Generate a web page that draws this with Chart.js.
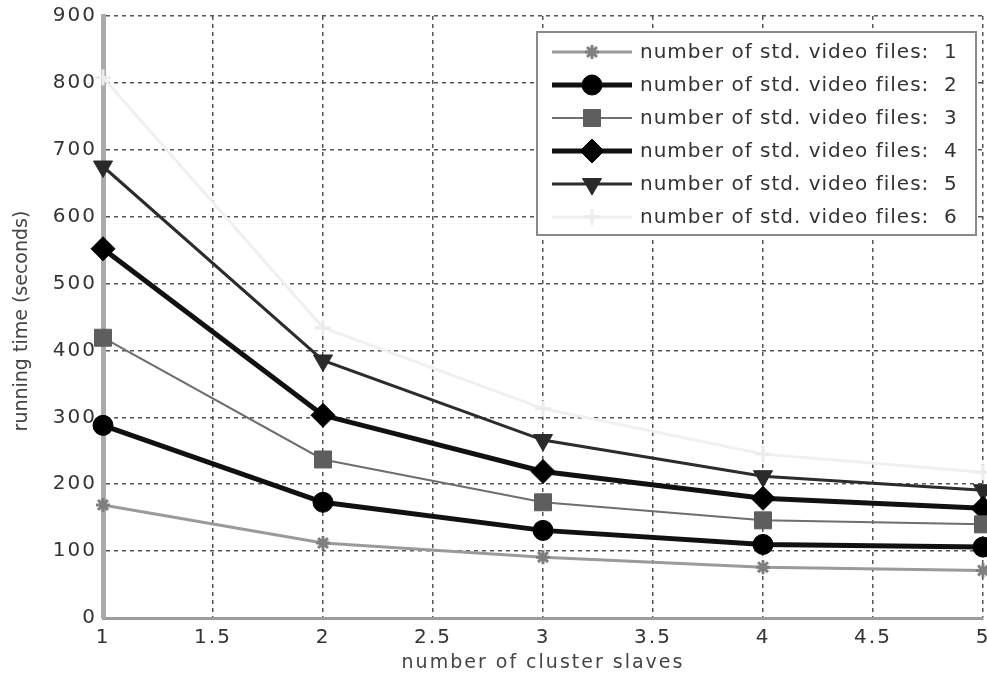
<!DOCTYPE html>
<html>
<head>
<meta charset="utf-8">
<script src="https://cdn.jsdelivr.net/npm/chart.js@4/dist/chart.umd.min.js"></script>
<style>
  html, body { margin: 0; padding: 0; background: #fff; }
  #wrap { width: 987px; height: 679px; }
</style>
</head>
<body>
<div id="wrap"><canvas id="chart" width="987" height="679"></canvas></div>
<script>
// datos
const SLAVES = [1, 2, 3, 4, 5];
const FILES1 = [169, 112, 91, 76, 71];
const FILES2 = [288, 173, 131, 110, 106];
const FILES3 = [419, 237, 173, 146, 140];
const FILES4 = [552, 303, 219, 179, 164];
const FILES5 = [675, 385, 266, 212, 191];
const FILES6 = [808, 434, 313, 245, 218];
const LABELS = [
  'number of std. video files:  1',
  'number of std. video files:  2',
  'number of std. video files:  3',
  'number of std. video files:  4',
  'number of std. video files:  5',
  'number of std. video files:  6'
];
const Y_TITLE = 'running time (seconds)';
const X_TITLE = 'number of cluster slaves';

const pts = ys => SLAVES.map((x, i) => ({ x, y: ys[i] }));

// estilo de cada serie
function serie(label, ys, color, width, style, radius, markColor, rot = 0) {
  return {
    label,
    data: pts(ys),
    borderColor: color,
    borderWidth: width,
    pointStyle: style,
    pointRadius: radius,
    pointRotation: rot,
    pointBackgroundColor: markColor,
    pointBorderColor: markColor,
    pointBorderWidth: style === 'star' || style === 'cross' ? 3 : 1,
    tension: 0,
    fill: false,
    clip: false
  };
}

const datasets = [
  serie(LABELS[0], FILES1, '#9a9a9a', 3, 'star', 7, '#7f7f7f'),
  serie(LABELS[1], FILES2, '#111111', 5, 'circle', 10, '#000000'),
  serie(LABELS[2], FILES3, '#6e6e6e', 2, 'rect', 12, '#5e5e5e'),
  serie(LABELS[3], FILES4, '#111111', 5, 'rectRot', 12, '#000000'),
  serie(LABELS[4], FILES5, '#2c2c2c', 3, 'triangle', 11, '#2a2a2a', 180),
  serie(LABELS[5], FILES6, '#f0f0f0', 3, 'cross', 8, '#ececec')
];

// texto un poco ensanchado, como en la figura original
const spacing = {
  id: 'spacing',
  beforeUpdate(chart) { chart.ctx.letterSpacing = '2px'; },
  beforeDraw(chart) { chart.ctx.letterSpacing = '2px'; }
};

/* ─── leyenda dentro del área, estilo matlab ─── */
const boxLegend = {
  id: 'boxLegend',
  afterDraw(chart) {
    const ctx = chart.ctx;
    const x0 = 537, y0 = 32, w = 439, h = 203;
    ctx.save();
    ctx.fillStyle = '#fff';
    ctx.fillRect(x0, y0, w, h);
    ctx.strokeStyle = '#8a8a8a';
    ctx.lineWidth = 2;
    ctx.strokeRect(x0, y0, w, h);
    chart.data.datasets.forEach((ds, i) => {
      const cy = 52 + i * 33;
      ctx.setLineDash([]);
      ctx.strokeStyle = ds.borderColor;
      ctx.lineWidth = ds.borderWidth;
      ctx.beginPath();
      ctx.moveTo(552, cy);
      ctx.lineTo(632, cy);
      ctx.stroke();
      ctx.fillStyle = ds.pointBackgroundColor;
      ctx.strokeStyle = ds.pointBorderColor;
      ctx.lineWidth = ds.pointBorderWidth;
      Chart.helpers.drawPoint(ctx, {
        pointStyle: ds.pointStyle,
        radius: ds.pointRadius,
        rotation: ds.pointRotation,
        borderWidth: ds.pointBorderWidth
      }, 592, cy);
      ctx.fillStyle = '#333';
      ctx.font = '20px "DejaVu Sans"';
      ctx.letterSpacing = '1px';
      ctx.textBaseline = 'middle';
      ctx.textAlign = 'left';
      ctx.fillText(ds.label, 640, cy + 1);
    });
    // título del eje y
    ctx.translate(22, 321);
    ctx.rotate(-Math.PI / 2);
    ctx.letterSpacing = '0px';
    ctx.fillStyle = '#444';
    ctx.font = '19px "DejaVu Sans"';
    ctx.textAlign = 'center';
    ctx.textBaseline = 'middle';
    ctx.fillText(Y_TITLE, 0, 0);
    ctx.restore();
  }
};

const TICK_FONT = { family: 'DejaVu Sans', size: 20 };

new Chart(document.getElementById('chart'), {
  type: 'line',
  data: { datasets },
  plugins: [spacing, boxLegend],
  options: {
    responsive: false,
    animation: false,
    layout: { autoPadding: false, padding: { top: 16, right: 4, left: 0, bottom: 0 } },
    plugins: { legend: { display: false }, tooltip: { enabled: false } },
    scales: {
      x: {
        type: 'linear',
        min: 1, max: 5,
        afterFit: s => { s.height = 61; s.paddingLeft = 0; s.paddingRight = 0; },
        ticks: {
          stepSize: 0.5,
          color: '#333',
          font: TICK_FONT,
          padding: 8,
          maxRotation: 0,
          autoSkip: false,
          callback: v => String(v)
        },
        grid: { color: '#555', lineWidth: 1.5, drawTicks: false },
        border: { color: '#9c9c9c', width: 3, dash: [4, 4] },
        title: {
          display: true,
          text: X_TITLE,
          color: '#444',
          font: { family: 'DejaVu Sans', size: 19 },
          padding: { top: 0, bottom: 5 }
        }
      },
      y: {
        min: 0, max: 900,
        afterFit: s => { s.width = 103; s.paddingTop = 0; s.paddingBottom = 0; },
        ticks: {
          stepSize: 100,
          color: '#333',
          font: TICK_FONT,
          padding: 6
        },
        grid: { color: '#555', lineWidth: 1.5, drawTicks: false },
        border: { color: '#ababab', width: 5, dash: [4, 4] }
      }
    }
  }
});
</script>
</body>
</html>
